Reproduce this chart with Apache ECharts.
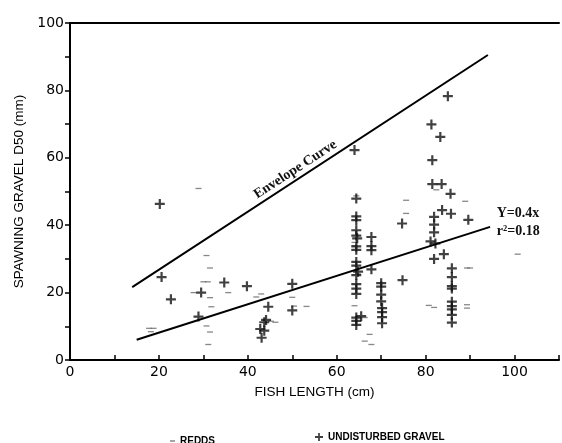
<!DOCTYPE html>
<html>
<head>
<meta charset="utf-8">
<script src="https://cdn.jsdelivr.net/npm/echarts@6.0.0/dist/echarts.min.js"></script>
<style>
  html, body { margin: 0; padding: 0; background: #fff; }
  #chart { width: 562px; height: 443px; }
</style>
</head>
<body>
<div id="chart"></div>
<script>
// values
const xLabels = [0, 20, 40, 60, 80, 100];
const yLabels = [0, 20, 40, 60, 80, 100];

const gravel = [
  [20.2, 46.3], [20.6, 24.6], [22.7, 18.0], [29.5, 20.0], [28.9, 12.9],
  [34.7, 23.0], [39.8, 21.9], [50.0, 22.6], [50.0, 14.7], [44.6, 15.8],
  [44.1, 11.9], [43.7, 11.2], [42.8, 9.2], [43.7, 8.7], [43.1, 6.6],
  // column near 64 cm
  [64.0, 62.3], [64.4, 47.9], [64.4, 42.6], [64.4, 41.5], [64.4, 38.5],
  [64.4, 36.9], [64.6, 36.1], [64.4, 33.7], [64.4, 32.7], [64.4, 29.1],
  [64.4, 28.0], [64.8, 26.2], [64.4, 25.2], [64.4, 22.5], [64.4, 21.2],
  [64.4, 19.6], [64.4, 12.6], [65.5, 13.0], [64.4, 11.6], [64.4, 10.4],
  // column near 68 cm
  [67.8, 36.5], [67.8, 33.8], [67.8, 32.6], [67.8, 26.9],
  // column near 70 cm
  [70.0, 22.8], [70.0, 21.8], [70.0, 19.4], [70.0, 17.4], [70.2, 15.4],
  [70.2, 14.2], [70.2, 12.7], [70.2, 10.9],
  [74.7, 40.5], [74.8, 23.7],
  // column near 82 cm
  [85.0, 78.3], [81.3, 69.9], [83.3, 66.2], [81.5, 59.3], [81.5, 52.2],
  [83.6, 52.2], [85.6, 49.3], [83.7, 44.5], [85.7, 43.4], [89.6, 41.6],
  [81.9, 42.5], [81.9, 40.2], [81.9, 37.9], [81.1, 35.2], [82.2, 34.6],
  [81.9, 30.0], [84.1, 31.4],
  // column near 86 cm
  [85.9, 27.2], [85.9, 24.6], [85.9, 21.9], [85.9, 21.2], [85.9, 17.3],
  [85.9, 16.0], [85.9, 15.0], [85.9, 13.4], [85.9, 11.1]
];

const redds = [
  [28.9, 50.9], [30.7, 31.0], [31.5, 27.3], [30.0, 23.2], [31.0, 23.2],
  [27.8, 20.0], [31.5, 18.5], [31.8, 15.8], [30.7, 10.1], [31.5, 8.3],
  [31.1, 4.6], [17.8, 9.4], [18.8, 9.4], [18.2, 8.4], [35.6, 20.0],
  [43.0, 19.6], [41.9, 18.7], [45.2, 11.5], [46.2, 11.2], [50.0, 18.6],
  [50.4, 16.0], [53.2, 15.9], [75.6, 47.4], [75.6, 43.5], [82.4, 50.5],
  [88.9, 47.1], [64.0, 34.9], [64.0, 33.9], [64.8, 25.5], [64.0, 16.1],
  [66.3, 12.6], [67.4, 7.6], [66.3, 5.6], [67.8, 4.6], [80.7, 16.2],
  [81.9, 15.6], [89.3, 27.3], [90.0, 27.3], [89.3, 16.4], [89.3, 15.4],
  [100.7, 31.4], [64.4, 48.7]
];

const envelope = [[14.0, 21.6], [94.0, 90.5]];
const regression = [[15.0, 6.0], [94.5, 39.5]];

const plus = 'path://M3.9,0H6.1V3.9H10V6.1H6.1V10H3.9V6.1H0V3.9H3.9Z';
const sans = 'Liberation Sans';
const serif = 'Liberation Serif';

let myChart = echarts.init(document.getElementById('chart'));

let option = {
  animation: false,
  grid: { left: 70, right: -3, top: 23, bottom: 83 },
  xAxis: [
    {
      type: 'value', min: 0, max: 110, interval: 10,
      axisLine: { lineStyle: { color: '#000', width: 2 } },
      axisTick: { inside: true, length: 5, lineStyle: { color: '#000', width: 1.5 } },
      axisLabel: {
        formatter: v => (xLabels.includes(v) ? v : ''),
        color: '#000', fontSize: 14, fontFamily: 'DejaVu Sans', margin: 5
      },
      splitLine: { show: false },
      name: 'FISH LENGTH (cm)', nameLocation: 'middle', nameGap: 25,
      nameTextStyle: { color: '#000', fontSize: 13.5, fontFamily: sans }
    },
    {
      type: 'value', position: 'top', min: 0, max: 110,
      axisLine: { lineStyle: { color: '#000', width: 2 } },
      axisTick: { show: false }, axisLabel: { show: false }, splitLine: { show: false }
    }
  ],
  yAxis: {
    type: 'value', min: 0, max: 100, interval: 10,
    axisLine: { show: true, lineStyle: { color: '#000', width: 2 } },
    axisTick: { show: true, length: 5, lineStyle: { color: '#000', width: 1.5 } },
    axisLabel: {
      formatter: v => (yLabels.includes(v) ? v : ''),
      color: '#000', fontSize: 14, fontFamily: 'DejaVu Sans', margin: 6
    },
    splitLine: { show: false },
    name: 'SPAWNING GRAVEL D50 (mm)', nameLocation: 'middle', nameGap: 30,
    nameTextStyle: { color: '#000', fontSize: 13.5, fontFamily: sans }
  },
  legend: [
    {
      data: ['REDDS'], left: 165, top: 431, itemWidth: 5, itemHeight: 1.5,
      textStyle: { color: '#000', fontSize: 10, fontWeight: 'bold', fontFamily: sans }
    },
    {
      data: [{ name: 'UNDISTURBED GRAVEL', icon: plus }], left: 310, top: 427,
      itemWidth: 8, itemHeight: 8,
      textStyle: { color: '#000', fontSize: 10, fontWeight: 'bold', fontFamily: sans }
    }
  ],
  series: [
    {
      name: 'REDDS', type: 'scatter', data: redds,
      symbol: 'rect', symbolSize: [6, 1.3],
      itemStyle: { color: '#6a6a6a' }
    },
    {
      name: 'UNDISTURBED GRAVEL', type: 'scatter', data: gravel,
      symbol: plus, symbolSize: 10,
      itemStyle: { color: '#111' }
    },
    {
      name: 'envelope', type: 'line', data: envelope, showSymbol: false, silent: true,
      lineStyle: { color: '#000', width: 2 }
    },
    {
      name: 'regression', type: 'line', data: regression, showSymbol: false, silent: true,
      lineStyle: { color: '#000', width: 2 }
    }
  ]
};

myChart.setOption(option);

// annotations placed through the chart's own scales
let p1 = myChart.convertToPixel({ gridIndex: 0 }, envelope[0]);
let p2 = myChart.convertToPixel({ gridIndex: 0 }, envelope[1]);
let angle = Math.atan2(p1[1] - p2[1], p2[0] - p1[0]);
let envPos = myChart.convertToPixel({ gridIndex: 0 }, [50.7, 56.5]);
let eqPos = myChart.convertToPixel({ gridIndex: 0 }, [96, 43.4]);

myChart.setOption({
  graphic: [
    {
      type: 'text', x: envPos[0], y: envPos[1], rotation: angle,
      style: {
        text: 'Envelope Curve', fill: '#111', font: 'bold 14px ' + serif,
        align: 'center', verticalAlign: 'middle'
      }
    },
    {
      type: 'text', x: eqPos[0], y: eqPos[1],
      style: { text: 'Y=0.4x', fill: '#111', font: 'bold 14px ' + serif, verticalAlign: 'middle' }
    },
    {
      type: 'text', x: eqPos[0], y: eqPos[1] + 18,
      style: { text: 'r\u00b2=0.18', fill: '#111', font: 'bold 14px ' + serif, verticalAlign: 'middle' }
    }
  ]
});
</script>
</body>
</html>
